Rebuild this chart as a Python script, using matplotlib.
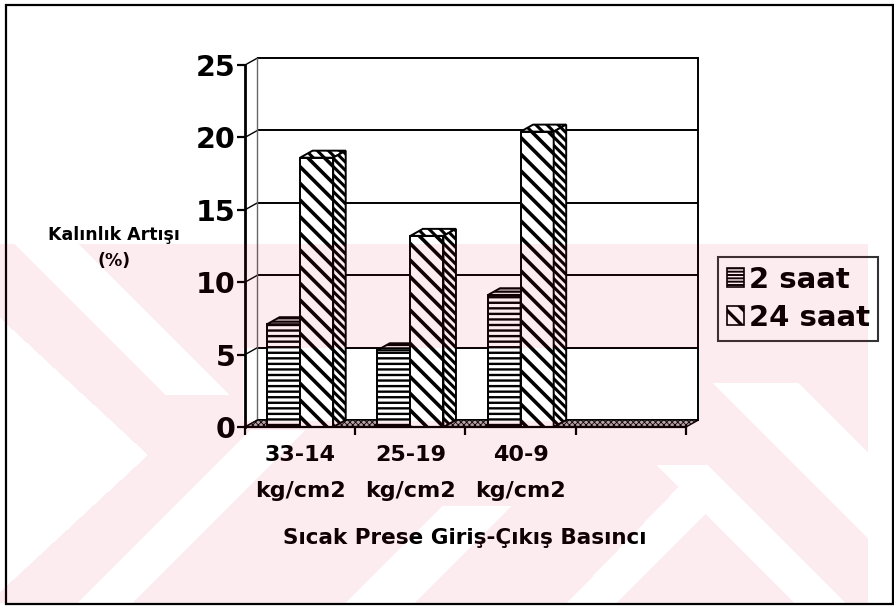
import numpy as np
import matplotlib
matplotlib.use("Agg")
import matplotlib.pyplot as plt
from matplotlib.patches import Polygon, Patch, Rectangle
from matplotlib.path import Path

# ---- data -------------------------------------------------------------
categories = ["33-14\nkg/cm2", "25-19\nkg/cm2", "40-9\nkg/cm2"]
n_slots = 4                      # the chart keeps one empty slot on the right
series_labels = ["2 saat", "24 saat"]
values_2h = [7.1, 5.3, 9.1]
values_24h = [18.6, 13.2, 20.4]
y_ticks = [0, 5, 10, 15, 20, 25]
y_label = "Kalınlık Artışı\n(%)"
x_label = "Sıcak Prese Giriş-Çıkış Basıncı"

# ---- figure -----------------------------------------------------------
W, H, DPI = 895, 607, 100
plt.rcParams.update({"font.family": ["DejaVu Sans"], "font.weight": "bold",
                     "axes.labelweight": "bold"})
fig = plt.figure(figsize=(W / DPI, H / DPI), dpi=DPI, facecolor="white")


def hatch_width(artist, lw):
    """Set the stroke width of a patch's hatch lines."""
    if hasattr(artist, "set_hatch_linewidth"):
        artist.set_hatch_linewidth(lw)
    else:
        artist._hatch_linewidth = lw
    return artist


# front plane of the pseudo-3D plot, in pixels
ax_l, ax_r, ax_b, ax_t = 245, 686, 427, 65
ax = fig.add_axes([ax_l / W, 1 - ax_b / H, (ax_r - ax_l) / W, (ax_b - ax_t) / H])
ax.set_xlim(0, n_slots)
ax.set_ylim(0, y_ticks[-1])
ax.set_facecolor("none")

# depth of the walls, converted to data units
depth_px = (12.5, 7)
DX = depth_px[0] * n_slots / (ax_r - ax_l)
DY = depth_px[1] * y_ticks[-1] / (ax_b - ax_t)

# back wall grid, side-wall diagonals and wall edges
for t in y_ticks:
    ax.plot([DX, n_slots + DX], [t + DY, t + DY], color="black", lw=1.4,
            clip_on=False, zorder=1, solid_capstyle="butt")
    ax.plot([0, DX], [t, t + DY], color="black", lw=1.0, clip_on=False, zorder=1)
ax.plot([DX, DX], [DY, y_ticks[-1] + DY], color="#666666", lw=1.0,
        clip_on=False, zorder=1)
ax.plot([n_slots + DX] * 2, [DY, y_ticks[-1] + DY], color="black", lw=1.4,
        clip_on=False, zorder=1)
floor = Polygon([(0, 0), (n_slots, 0), (n_slots + DX, DY), (DX, DY)],
                closed=True, facecolor="#b0b0b0", edgecolor="black", lw=1.0,
                hatch="xxxxxx", clip_on=False, zorder=2)
ax.add_patch(hatch_width(floor, 0.6))

# ---- bars ---------------------------------------------------------------
width = 0.3
centers = np.arange(len(categories)) + 0.5
styles = [
    # front hatch, front lw, top hatch, top lw, side hatch, side lw
    ("---", 1.7, "-----", 1.6, "----", 1.6),
    ("\\\\", 2.6, "\\\\\\", 2.2, "\\\\\\\\", 2.2),
]
for k, (vals, (h_front, h_lw, h_top, t_lw, h_side, s_lw)) in enumerate(
        zip([values_2h, values_24h], styles)):
    xs = centers + (k - 0.5) * width
    z = 3 + 2 * k
    bars = ax.bar(xs, vals, width=width, facecolor="white", edgecolor="black",
                  lw=1.4, hatch=h_front, zorder=z, clip_on=False)
    for b, v in zip(bars, vals):
        hatch_width(b, h_lw)
        x0 = b.get_x()
        x1 = x0 + b.get_width()
        top = Polygon([(x0, v), (x1, v), (x1 + DX, v + DY), (x0 + DX, v + DY)],
                      closed=True, facecolor="white", edgecolor="black",
                      lw=1.4, hatch=h_top, zorder=z, clip_on=False)
        side = Polygon([(x1, 0), (x1 + DX, DY), (x1 + DX, v + DY), (x1, v)],
                       closed=True, facecolor="white", edgecolor="black",
                       lw=1.4, hatch=h_side, zorder=z, clip_on=False)
        ax.add_patch(hatch_width(top, t_lw))
        ax.add_patch(hatch_width(side, s_lw))

# ---- axes decoration ------------------------------------------------------
for s in ("top", "right"):
    ax.spines[s].set_visible(False)
ax.spines["left"].set_linewidth(2.0)
ax.spines["bottom"].set_linewidth(1.6)
ax.spines["left"].set_zorder(9)
ax.spines["bottom"].set_zorder(9)

ax.set_yticks(y_ticks)
ax.tick_params(axis="y", direction="out", length=5.5, width=1.6, pad=1,
               labelsize=20.5)
ax.set_xticks(range(n_slots + 1))
ax.set_xticklabels([""] * (n_slots + 1))
ax.tick_params(axis="x", which="major", direction="out", length=5.5, width=1.6)
ax.set_xticks(centers, minor=True)
ax.set_xticklabels(categories, minor=True, fontsize=16, linespacing=2.0)
ax.tick_params(axis="x", which="minor", length=0, pad=13)

ax.set_ylabel(y_label, rotation=0, fontsize=12.5, ha="center", va="center",
              multialignment="center", linespacing=1.6)
ax.yaxis.set_label_coords((114 - ax_l) / (ax_r - ax_l), (ax_b - 248) / (ax_b - ax_t))
ax.set_xlabel(x_label, fontsize=15.5, va="center")
ax.xaxis.set_label_coords((465 - ax_l) / (ax_r - ax_l), (ax_b - 538) / (ax_b - ax_t))

# ---- legend -------------------------------------------------------------
handles = [hatch_width(Patch(facecolor="white", edgecolor="black", hatch="-----", lw=1.2), 1.4),
           hatch_width(Patch(facecolor="white", edgecolor="black", hatch="\\\\", lw=1.2), 2.4)]
leg = fig.legend(handles, series_labels, loc="upper left",
                 bbox_to_anchor=(718 / W, 1 - 257 / H), bbox_transform=fig.transFigure,
                 frameon=True, fancybox=False, edgecolor="black", fontsize=21,
                 handlelength=0.6, handleheight=0.6, handletextpad=0.15,
                 borderpad=0.3, labelspacing=0.35, borderaxespad=0)
leg.get_frame().set_linewidth(1.5)
for hp, lw in zip(leg.get_patches(), (1.4, 2.4)):
    hatch_width(hp, lw)

# ---- outer frame ----------------------------------------------------------
fig.add_artist(Rectangle((6 / W, 1 - 604 / H), (893 - 6) / W, (604 - 5) / H,
                         transform=fig.transFigure, fill=False, lw=1.6,
                         ec="black"))

# ---- pale diagonal watermark over the lower part of the page -------------
yy, xx = np.mgrid[0:H, 0:W]
pts = np.column_stack([xx.ravel() + 0.5, yy.ravel() + 0.5])
tint = (xx >= 0) & (xx < 868) & (yy >= 244) & (yy < 603)
gaps = [
    [(15, 244), (78, 244), (229, 395), (166, 395)],
    [(0, 318), (148, 455), (0, 592)],
    [(77, 603), (133, 603), (306, 430), (250, 430)],
    [(243, 348), (699, 348), (699, 421), (243, 421)],
    [(345, 603), (415, 603), (512, 506), (442, 506)],
    [(567, 603), (617, 603), (725, 495), (695, 470)],
    [(657, 465), (707, 465), (845, 603), (795, 603)],
    [(713, 383), (798, 383), (895, 480), (895, 565)],
]
for g in gaps:
    inside = Path(g).contains_points(pts).reshape(H, W)
    tint &= ~inside
rgba = np.zeros((H, W, 4))
rgba[..., 0] = 225 / 255
rgba[..., 1] = 5 / 255
rgba[..., 2] = 45 / 255
rgba[..., 3] = np.where(tint, 0.075, 0.0)
fig.figimage(rgba, xo=0, yo=0, origin="upper", zorder=20)

fig.savefig("out.png", dpi=DPI, facecolor="white")
